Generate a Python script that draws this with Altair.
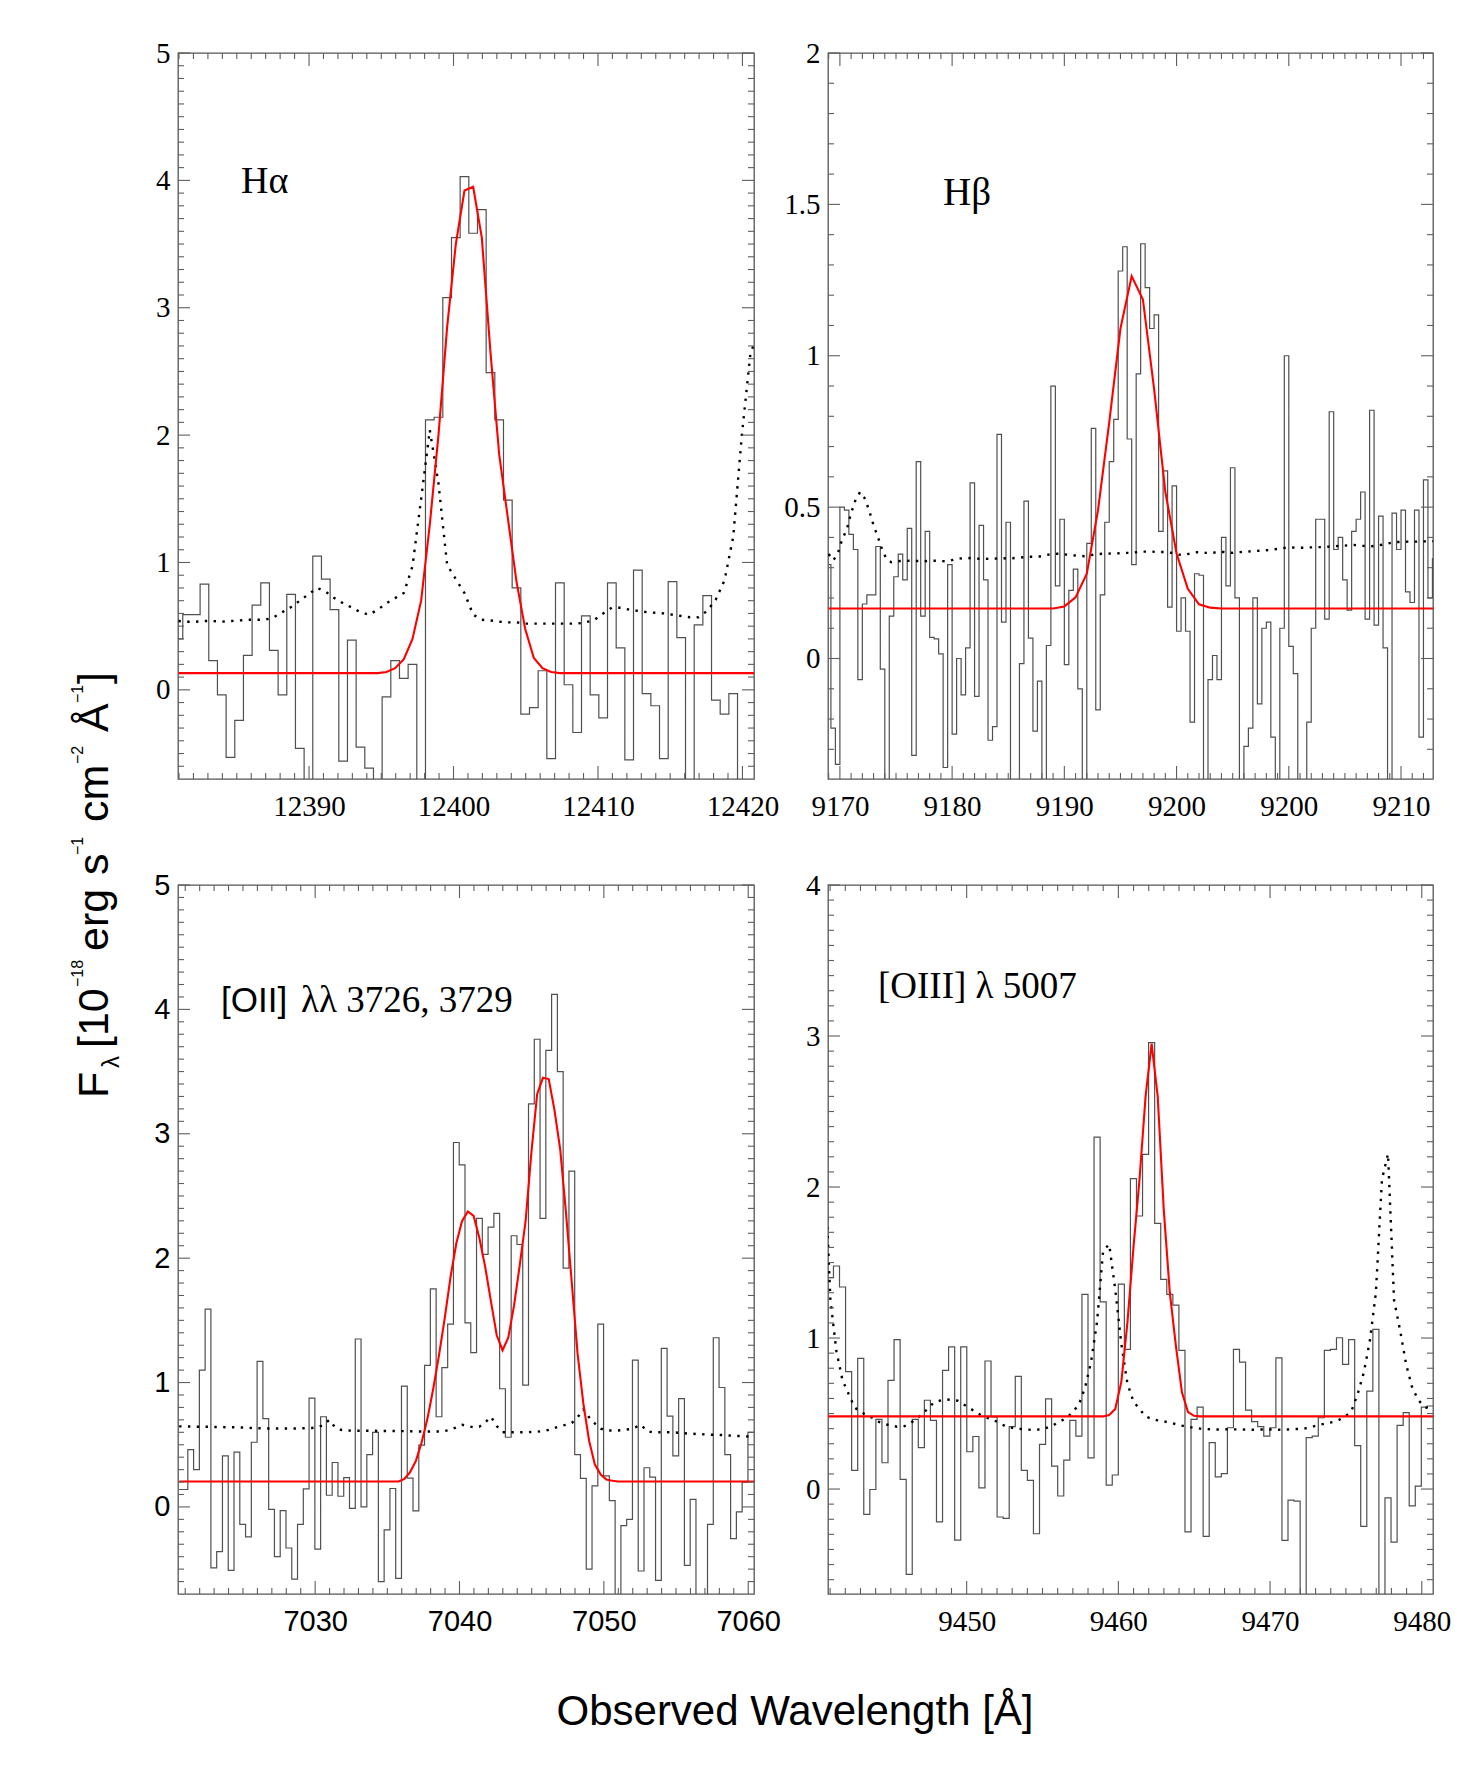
import altair as alt
import pandas as pd

SERIF = "Liberation Serif"
SANS = "Liberation Sans"
FRAME = "#555555"
TICK = "#5e5e5e"
HIST = "#505050"

# ---------------- data ----------------
# H-alpha panel: spectrum bins (0.6 A) centred from 12380.96
ha_wl0, ha_dwl = 12380.96, 0.6
ha_flux = [0.40, 0.59, 0.59, 0.83, 0.23, -0.04, -0.53, -0.24, 0.27, 0.665,
           0.84, 0.31, -0.04, 0.75, -0.46, -0.95, 1.05, 0.87, 0.63, -0.56,
           0.39, -0.45, -0.615, -0.95, -0.055, 0.23, 0.09, 0.20, -0.95, 2.12,
           2.14, 3.08, 3.55, 4.03, 3.585, 3.77, 2.49, 2.12, 1.49, 0.80,
           -0.19, -0.14, 0.15, -0.54, 0.84, 0.04, -0.335, 0.58, -0.04, -0.22,
           0.84, 0.33, -0.55, 0.94, -0.03, -0.125, -0.54, 0.85, 0.41, -0.95,
           0.51, 0.74, -0.08, -0.19, -0.03, -0.95, -0.95, -0.95]
ha_err = [0.54, 0.535, 0.535, 0.54, 0.54, 0.535, 0.54, 0.545, 0.55, 0.55,
          0.55, 0.57, 0.61, 0.65, 0.70, 0.75, 0.80, 0.77, 0.72, 0.68,
          0.646, 0.61, 0.59, 0.63, 0.68, 0.72, 0.76, 0.97, 1.50, 2.04,
          1.62, 0.98, 0.87, 0.76, 0.59, 0.55, 0.545, 0.535, 0.53, 0.53,
          0.52, 0.52, 0.52, 0.52, 0.52, 0.52, 0.52, 0.53, 0.55, 0.60,
          0.645, 0.645, 0.63, 0.62, 0.61, 0.605, 0.60, 0.59, 0.58, 0.57,
          0.57, 0.62, 0.71, 0.86, 1.20, 2.00, 2.65, 2.80]
ha_fit = ([0.131] * 24 +
          [0.14, 0.17, 0.24, 0.40, 0.70, 1.30, 2.00, 2.85, 3.50, 3.92,
           3.95, 3.55, 2.65, 1.85, 1.35, 0.85, 0.48, 0.25, 0.17, 0.14] +
          [0.131] * 24)

# H-beta panel: bins of 0.4 A centred from 9169.0
hb_wl0, hb_dwl = 9169.0, 0.4
hb_flux = [0.31, -0.23, -0.35, 0.50, 0.49, 0.41, 0.36, -0.07, 0.18, 0.21,
           0.21, 0.37, -0.035, -0.6, 0.14, 0.27, 0.345, 0.26, 0.43, -0.32,
           0.65, 0.14, 0.42, 0.07, 0.065, 0.015, -0.36, 0.31, -0.25, 0.0,
           -0.12, 0.035, 0.58, -0.125, 0.44, 0.26, -0.27, -0.225, 0.74, 0.12,
           0.45, -0.6, -0.5, -0.017, 0.52, 0.067, -0.24, -0.075, -0.5, 0.043,
           0.90, 0.24, 0.46, -0.02, 0.225, 0.295, -0.10, -0.6, 0.38, 0.76,
           -0.17, 0.21, 0.45, 0.65, 0.79, 1.28, 1.36, 0.725, 0.31, 0.94,
           1.37, 1.225, 1.09, 1.135, 0.42, 0.62, 0.17, 0.57, 0.09, 0.20,
           0.09, -0.21, 0.28, 0.275, -0.55, -0.07, 0.01, -0.07, 0.40, 0.24,
           0.63, 0.20, -0.55, -0.29, -0.23, 0.20, -0.15, 0.10, 0.12, -0.26,
           -0.55, 0.10, 1.00, 0.04, -0.05, -0.55, -0.6, -0.21, 0.10, 0.46,
           0.46, 0.13, 0.815, 0.36, 0.40, 0.26, 0.16, 0.42, 0.46, 0.55,
           0.13, 0.82, 0.11, 0.47, 0.035, -0.55, 0.48, 0.36, 0.49, 0.22,
           0.185, 0.49, -0.26, 0.59, 0.20, 0.33]
hb_err = [0.345, 0.324, 0.345, 0.393, 0.425, 0.48, 0.525, 0.55, 0.53, 0.49, 0.44, 0.40, 0.355, 0.326, 0.318,
          0.320, 0.322, 0.322, 0.323, 0.322, 0.322, 0.321, 0.322, 0.323, 0.323, 0.322, 0.321, 0.323,
          0.327, 0.330, 0.331, 0.332, 0.331, 0.330, 0.329, 0.329, 0.330, 0.330, 0.331, 0.331, 0.330, 0.331,
          0.333, 0.334, 0.335, 0.336, 0.336, 0.337, 0.340, 0.343, 0.345, 0.346,
          0.345, 0.343, 0.341, 0.340, 0.339, 0.338, 0.340, 0.343, 0.345, 0.346,
          0.346, 0.347, 0.347, 0.348, 0.349, 0.349,
          0.350, 0.352, 0.353, 0.353, 0.353, 0.352, 0.352, 0.352, 0.350, 0.347,
          0.343, 0.342, 0.345, 0.349,
          0.351, 0.351, 0.349, 0.348, 0.350, 0.352, 0.352, 0.350, 0.349, 0.351,
          0.352, 0.353, 0.354, 0.355, 0.356, 0.357, 0.358, 0.360, 0.362, 0.364,
          0.366, 0.367, 0.366, 0.366, 0.366, 0.367, 0.367, 0.368, 0.368, 0.369,
          0.370, 0.371, 0.372, 0.373, 0.374, 0.375, 0.374, 0.372, 0.371, 0.371,
          0.372, 0.375, 0.378, 0.381, 0.384, 0.385, 0.385, 0.386, 0.386, 0.386, 0.387, 0.387, 0.387, 0.388]
hb_fit_wl = list(range(9169, 9224))
hb_fit = ([0.165] * 21 +
          [0.172, 0.202, 0.28, 0.49, 0.78, 1.09, 1.263, 1.186, 0.89, 0.55, 0.347, 0.23, 0.179, 0.168] +
          [0.165] * 20)
hb_tick_values = [9170, 9180, 9190, 9200, 9210, 9220]
hb_tick_labels = ["9170", "9180", "9190", "9200", "9200", "9210"]

# [OII] panel: bins of 0.4 A centred from 7020.58
oii_wl0, oii_dwl = 7020.58, 0.4
oii_flux = [0.14, 0.14, 0.46, 0.30, 1.10, 1.59, -0.49, -0.36, 0.41, -0.51,
            0.44, -0.14, -0.24, 0.52, 1.17, 0.71, -0.02, -0.40, -0.03, -0.33,
            -0.58, -0.14, 0.145, 0.875, -0.34, 0.725, 0.094, 0.357, 0.086, 0.236,
            -0.011, 1.35, 0.0, 0.42, 0.60, -0.60, -0.185, 0.148, -0.574, 0.972,
            0.231, -0.032, 0.497, 1.138, 1.753, 0.725, 1.12, 1.47, 2.93, 2.75,
            1.48, 1.24, 2.32, 2.03, 2.25, 2.36, 0.95, 0.56, 2.18, 2.11,
            0.98, 3.24, 3.76, 2.32, 3.67, 4.12, 3.50, 1.92, 2.70, 0.42,
            0.23, -0.50, 0.17, 1.47, 0.25, 0.05, -0.9, -0.15, -0.10, 1.18,
            -0.515, 0.315, 0.24, -0.59, 1.275, 0.73, 0.41, 0.87, -0.47, 0.06,
            -0.9, -0.9, -0.14, 1.36, 0.96, 0.42, -0.255, -0.04, 0.20, 0.60,
            0.60]
oii_err = [0.648, 0.647, 0.646, 0.645, 0.645, 0.644, 0.643, 0.642, 0.641, 0.640,
           0.640, 0.638, 0.636, 0.634, 0.632, 0.630, 0.630, 0.630, 0.630, 0.630,
           0.630, 0.632, 0.633, 0.635, 0.640, 0.660, 0.700, 0.640, 0.620, 0.615,
           0.613, 0.612, 0.612, 0.612, 0.612, 0.611, 0.610, 0.610, 0.610, 0.609,
           0.608, 0.607, 0.606, 0.606, 0.606, 0.606, 0.610, 0.620, 0.640, 0.660,
           0.650, 0.640, 0.645, 0.680, 0.725, 0.650, 0.600, 0.600, 0.600, 0.600,
           0.600, 0.602, 0.605, 0.610, 0.620, 0.635, 0.650, 0.660, 0.675, 0.720,
           0.785, 0.720, 0.670, 0.630, 0.615, 0.615, 0.615, 0.620, 0.625, 0.640,
           0.660, 0.610, 0.600, 0.600, 0.600, 0.600, 0.598, 0.595, 0.590, 0.588,
           0.585, 0.583, 0.580, 0.580, 0.578, 0.575, 0.572, 0.570, 0.568, 0.565,
           0.565]
oii_fit = ([0.204] * 39 +
           [0.225, 0.28, 0.37, 0.52, 0.71, 0.95, 1.22, 1.52, 1.85, 2.12,
            2.30, 2.375, 2.34, 2.16, 1.93, 1.65, 1.38, 1.26, 1.36, 1.62,
            1.95, 2.30, 2.85, 3.32, 3.45, 3.44, 3.19, 2.87, 2.36, 1.80,
            1.23, 0.83, 0.53, 0.34, 0.26, 0.22, 0.21] +
           [0.204] * 25)

# [OIII] panel: bins of 0.4 A centred from 9440.62
oiii_wl0, oiii_dwl = 9440.62, 0.3995
oiii_flux = [1.40, 1.40, 1.477, 1.338, 0.777, 0.124, 0.865, -0.168, -0.003, 0.461,
             0.174, 0.72, 0.99, 0.064, -0.565, 0.461, 0.274, 0.588, 0.455, -0.218,
             0.786, 0.942, -0.338, 0.942, 0.247, 0.348, 0.008, 0.848, 0.477, -0.185,
             -0.194, 0.413, 0.746, 0.124, 0.057, -0.296, 0.296, 0.597, 0.152, -0.046,
             0.192, 0.455, 0.35, 1.289, 0.207, 2.331, 1.24, 0.026, 0.093, 1.357,
             0.925, 2.055, 1.808, 2.216, 2.956, 1.759, 1.388, 1.289, 1.218, 0.918,
             -0.283, 0.461, 0.543, -0.313, 0.307, 0.080, 0.102, 0.406, 0.925, 0.841,
             0.523, 0.446, 0.413, 0.351, 0.406, 0.869, -0.340, -0.073, -0.080, -0.9,
             0.340, 0.351, 0.472, 0.918, 0.925, 1.002, 0.826, 0.99, 0.287, -0.247,
             0.649, 1.057, -0.9, -0.058, -0.351, 0.422, 0.506, -0.112, 0.02, 0.543,
             0.55, 0.55]
oiii_err = [2.20, 1.25, 0.91, 0.72, 0.63, 0.54, 0.51, 0.49, 0.47, 0.445,
            0.43, 0.42, 0.413, 0.413, 0.43, 0.46, 0.49, 0.53, 0.57, 0.585,
            0.594, 0.59, 0.585, 0.56, 0.535, 0.51, 0.485, 0.47, 0.455, 0.435,
            0.413, 0.405, 0.40, 0.395, 0.393, 0.393, 0.395, 0.41, 0.428, 0.45,
            0.472, 0.51, 0.56, 0.67, 0.84, 1.11, 1.58, 1.62, 1.32, 0.96,
            0.70, 0.58, 0.53, 0.48, 0.465, 0.455, 0.448, 0.44, 0.43, 0.42,
            0.413, 0.405, 0.40, 0.397, 0.395, 0.394, 0.395, 0.396, 0.395, 0.394,
            0.393, 0.393, 0.394, 0.395, 0.394, 0.393, 0.394, 0.396, 0.398, 0.40,
            0.406, 0.418, 0.428, 0.436, 0.445, 0.46, 0.48, 0.52, 0.63, 0.77,
            0.98, 1.30, 2.05, 2.22, 1.25, 1.05, 0.825, 0.67, 0.59, 0.545,
            0.528, 0.52]
oiii_fit = ([0.481] * 47 +
            [0.49, 0.53, 0.71, 1.10, 1.60, 2.05, 2.60, 2.95, 2.60, 1.85,
             1.30, 0.95, 0.64, 0.51, 0.485] +
            [0.481] * 40)

# texts
ha_label = "Hα"
hb_label = "Hβ"
oii_label_a = "[OII]"
oii_label_b = "λλ 3726, 3729"
oiii_label = "[OIII] λ 5007"
xtitle = "Observed Wavelength [Å]"
ytitle_pieces = ["F", "λ", "[10", "−18", "erg", "s", "−1", "cm", "−2", "Å", "−1", "]"]


def grid(start, step, n):
    return [round(start + step * i, 3) for i in range(n)]


def text_layer(text, font, size, x, y, angle=0, align="left", baseline="alphabetic"):
    df = pd.DataFrame({"t": [text]})
    kw = dict(font=font, fontSize=size, align=align, baseline=baseline, color="black")
    if angle:
        kw["angle"] = angle
    return alt.Chart(df).mark_text(**kw).encode(x=alt.value(x), y=alt.value(y), text="t:N")


def panel(wl, flux, err, fit_wl, fit, xdom, ydom, w, h, xmaj, xminor, ymaj, yminor,
          font, texts, label_expr=None, extra=None):
    xs = alt.Scale(domain=xdom, nice=False, zero=False)
    ys = alt.Scale(domain=ydom, nice=False, zero=False)
    xkw = dict(values=xmaj, ticks=False, domain=False, grid=False, labelFont=font,
               labelFontSize=29, labelPadding=13, labelColor="black", labelFlush=False,
               labelOverlap=False, title=None)
    if label_expr:
        xkw["labelExpr"] = label_expr
    else:
        xkw["format"] = "d"
    xaxis = alt.Axis(**xkw)
    yaxis = alt.Axis(values=ymaj, format="~g", ticks=False, domain=False, grid=False,
                     labelFont=font, labelFontSize=29, labelPadding=8, labelColor="black",
                     labelFlush=False, labelOverlap=False, title=None)
    X = lambda: alt.X("wl:Q", scale=xs, axis=xaxis)
    Y = lambda f: alt.Y(f + ":Q", scale=ys, axis=yaxis)

    spec = pd.DataFrame({"wl": wl, "flux": flux, "err": err})
    fitdf = pd.DataFrame({"wl": fit_wl, "fit": fit})
    layers = [
        alt.Chart(spec).mark_line(interpolate="step", color=HIST, strokeWidth=1.2, clip=True)
        .encode(x=X(), y=Y("flux")),
        alt.Chart(spec).mark_line(color="black", strokeWidth=2.4, strokeDash=[2.4, 6.4], clip=True)
        .encode(x=X(), y=Y("err")),
        alt.Chart(fitdf).mark_line(color="#ff0000", strokeWidth=2.1, clip=True)
        .encode(x=X(), y=Y("fit")),
    ]
    for vals, L in ((xmaj, 13), (xminor, 6)):
        d = pd.DataFrame({"wl": vals})
        layers.append(alt.Chart(d).mark_rule(color=TICK, strokeWidth=1.1)
                      .encode(x=X(), y=alt.value(h), y2=alt.value(h - L)))
        layers.append(alt.Chart(d).mark_rule(color=TICK, strokeWidth=1.1)
                      .encode(x=X(), y=alt.value(0), y2=alt.value(L)))
    for vals, L in ((ymaj, 12), (yminor, 6)):
        d = pd.DataFrame({"flux": vals})
        layers.append(alt.Chart(d).mark_rule(color=TICK, strokeWidth=1.1)
                      .encode(y=Y("flux"), x=alt.value(0), x2=alt.value(L)))
        layers.append(alt.Chart(d).mark_rule(color=TICK, strokeWidth=1.1)
                      .encode(y=Y("flux"), x=alt.value(w), x2=alt.value(w - L)))
    for t in texts:
        layers.append(text_layer(*t))
    if extra:
        layers.extend(extra)
    return alt.layer(*layers).properties(width=w, height=h)


W1, W2, H1, H2 = 576, 605, 726, 709
OX3, OY3 = 177.0, 884.0   # origin of lower-left panel in page pixels

# anchor so that the page origin is fixed (invisible)
anchor = alt.Chart(pd.DataFrame({"a": [0]})).mark_rule(opacity=0, strokeWidth=1).encode(
    x=alt.value(-176.5), x2=alt.value(-175.5), y=alt.value(-51.5), y2=alt.value(-51.5))

p1 = panel(grid(ha_wl0, ha_dwl, len(ha_flux)), ha_flux, ha_err,
           grid(ha_wl0, ha_dwl, len(ha_fit)), ha_fit,
           [12380.93, 12420.8], [-0.70, 5.0], W1, H1,
           [12390, 12400, 12410, 12420], [v for v in range(12381, 12421) if v % 10],
           [0, 1, 2, 3, 4, 5], [round(k / 10, 1) for k in range(-6, 50) if k % 10],
           SERIF, [(ha_label, SERIF, 38, 63, 140)], extra=[anchor])

hb_expr = " : ".join(f"datum.value == {v} ? '{l}'" for v, l in zip(hb_tick_values, hb_tick_labels)) + " : ''"
p2 = panel(grid(hb_wl0, hb_dwl, len(hb_flux)), hb_flux, hb_err, hb_fit_wl, hb_fit,
           [9168.94, 9222.85], [-0.398, 2.0], W2, H1,
           hb_tick_values, [v for v in range(9169, 9223) if v % 10],
           [0, 0.5, 1, 1.5, 2], [round(k / 10, 1) for k in range(-3, 20) if k % 5],
           SERIF, [(hb_label, SERIF, 39, 115, 152)], label_expr=hb_expr)

# axis titles (placed relative to lower-left panel): (start y, baseline x, font size)
ypos = [(1097, 107, 43), (1067, 118, 24), (1047, 107, 43), (986, 82, 16), (950, 107, 43),
        (874, 107, 43), (854, 82, 16), (821, 107, 43), (763, 82, 16), (731, 107, 43),
        (702, 82, 16), (683, 107, 43)]
title_layers = []
for piece, (yy, xx, fs) in zip(ytitle_pieces, ypos):
    title_layers.append(text_layer(piece, SANS, fs, xx - OX3, yy - OY3, angle=270))
title_layers.append(text_layer(xtitle, SANS, 42, 794 - OX3, 1724 - OY3, align="center"))

p3 = panel(grid(oii_wl0, oii_dwl, len(oii_flux)), oii_flux, oii_err,
           grid(oii_wl0, oii_dwl, len(oii_fit)), oii_fit,
           [7020.5, 7060.4], [-0.70, 5.0], W1, H2,
           [7030, 7040, 7050, 7060], [v for v in range(7021, 7061) if v % 10],
           [0, 1, 2, 3, 4, 5], [round(k / 10, 1) for k in range(-6, 50) if k % 10],
           SANS, [(oii_label_a, SANS, 35, 43, 127), (oii_label_b, SERIF, 37, 123, 127)],
           extra=title_layers)

p4 = panel(grid(oiii_wl0, oiii_dwl, len(oiii_flux)), oiii_flux, oiii_err,
           grid(oiii_wl0, oiii_dwl, len(oiii_fit)), oiii_fit,
           [9440.86, 9480.74], [-0.695, 4.0], W2, H2,
           [9450, 9460, 9470, 9480], [v for v in range(9441, 9481) if v % 10],
           [0, 1, 2, 3, 4], [round(k / 10, 1) for k in range(-6, 40) if k % 10],
           SERIF, [(oiii_label, SERIF, 37, 50, 113)])

chart = alt.concat(p1, p2, p3, p4, columns=2, spacing={"row": 106, "column": 74},
                   bounds="flush").properties(
    padding={"left": 0, "top": 0, "right": 10, "bottom": 10}, background="white"
).configure_view(stroke=FRAME, strokeWidth=1.3)

chart.save("out.html", embed_options={"renderer": "svg", "actions": False})
